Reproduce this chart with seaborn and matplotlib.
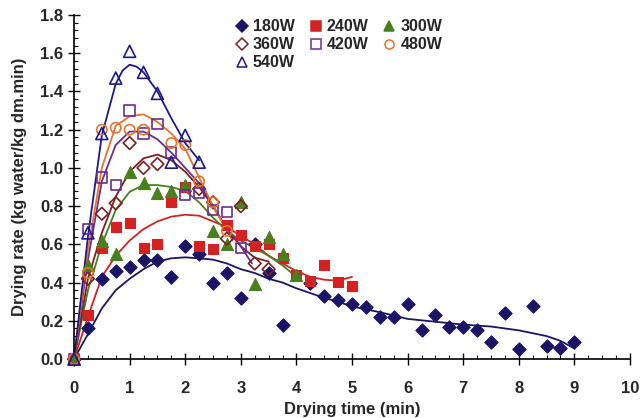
import matplotlib
matplotlib.use("Agg")
import matplotlib.pyplot as plt
import seaborn as sns
import pandas as pd
from matplotlib.ticker import MultipleLocator
from matplotlib.lines import Line2D

# ---- measured drying rates (kg water / kg dm.min) ----
t_180 = [0, 0.25, 0.5, 0.75, 1.0, 1.25, 1.5, 1.75, 2.0, 2.25, 2.5, 2.75, 3.0, 3.25, 3.5, 3.75,
         4.25, 4.5, 4.75, 5.0, 5.25, 5.5, 5.75, 6.0, 6.25, 6.5, 6.75, 7.0, 7.25, 7.5, 7.75,
         8.0, 8.25, 8.5, 8.75, 9.0]
r_180 = [0, 0.16, 0.42, 0.46, 0.48, 0.52, 0.52, 0.43, 0.59, 0.55, 0.40, 0.45, 0.32, 0.60, 0.45, 0.18,
         0.40, 0.33, 0.31, 0.29, 0.27, 0.22, 0.22, 0.29, 0.15, 0.23, 0.17, 0.165, 0.15, 0.09, 0.24,
         0.05, 0.28, 0.07, 0.06, 0.09]

t_240 = [0, 0.25, 0.5, 0.75, 1.0, 1.25, 1.5, 1.75, 2.0, 2.25, 2.5, 2.75, 3.0, 3.25, 3.5, 3.75,
         4.0, 4.25, 4.5, 4.75, 5.0]
r_240 = [0, 0.23, 0.58, 0.69, 0.71, 0.58, 0.60, 0.82, 0.90, 0.59, 0.575, 0.70, 0.65, 0.59, 0.60, 0.53,
         0.44, 0.41, 0.49, 0.405, 0.38]

t_300 = [0, 0.25, 0.5, 0.75, 1.0, 1.25, 1.5, 1.75, 2.0, 2.5, 2.75, 3.0, 3.25, 3.5, 3.75, 4.0]
r_300 = [0, 0.49, 0.62, 0.55, 0.98, 0.92, 0.87, 0.88, 0.91, 0.67, 0.60, 0.82, 0.39, 0.64, 0.55, 0.44]

t_360 = [0, 0.25, 0.5, 0.75, 1.0, 1.25, 1.5, 2.25, 2.5, 2.75, 3.0, 3.25, 3.5]
r_360 = [0, 0.42, 0.76, 0.815, 1.13, 1.00, 1.02, 0.89, 0.82, 0.63, 0.80, 0.50, 0.47]

t_420 = [0, 0.25, 0.5, 0.75, 1.0, 1.25, 1.5, 1.75, 2.0, 2.25, 2.5, 2.75, 3.0]
r_420 = [0, 0.68, 0.95, 0.91, 1.30, 1.18, 1.23, 1.08, 0.86, 0.87, 0.78, 0.77, 0.58]

t_480 = [0, 0.25, 0.5, 0.75, 1.0, 1.25, 1.75, 2.0, 2.25, 2.5, 2.75]
r_480 = [0, 0.45, 1.20, 1.21, 1.20, 1.20, 1.13, 1.12, 0.93, 0.82, 0.67]

t_540 = [0, 0.25, 0.5, 0.75, 1.0, 1.25, 1.5, 1.75, 2.0, 2.25]
r_540 = [0, 0.66, 1.18, 1.47, 1.61, 1.50, 1.39, 1.03, 1.17, 1.03]

# ---- fitted model curves ----
ft_180 = [0, 0.25, 0.5, 0.75, 1.0, 1.25, 1.5, 1.75, 2.0, 2.25, 2.5, 2.75, 3.0, 3.25, 3.5, 3.75,
          4.0, 4.25, 4.5, 4.75, 5.0, 5.5, 6.0, 6.5, 7.0, 7.5, 8.0, 8.5, 8.75, 9.0]
fr_180 = [0, 0.13, 0.265, 0.36, 0.42, 0.47, 0.51, 0.527, 0.532, 0.527, 0.52, 0.50, 0.47, 0.45, 0.42, 0.40,
          0.37, 0.345, 0.32, 0.30, 0.275, 0.245, 0.21, 0.195, 0.18, 0.17, 0.15, 0.12, 0.095, 0.055]

ft_240 = [0, 0.25, 0.5, 0.75, 1.0, 1.25, 1.5, 1.75, 2.0, 2.25, 2.5, 2.75, 3.0, 3.25, 3.5, 3.75,
          4.0, 4.25, 4.5, 4.75, 5.0]
fr_240 = [0, 0.22, 0.43, 0.54, 0.62, 0.68, 0.72, 0.745, 0.755, 0.75, 0.72, 0.69, 0.645, 0.60, 0.54, 0.50,
          0.46, 0.43, 0.415, 0.41, 0.43]

ft_300 = [0, 0.25, 0.5, 0.75, 1.0, 1.25, 1.5, 1.75, 2.0, 2.25, 2.5, 2.75, 3.0, 3.25, 3.5, 3.75, 4.0]
fr_300 = [0, 0.36, 0.60, 0.78, 0.875, 0.91, 0.91, 0.90, 0.88, 0.82, 0.74, 0.67, 0.62, 0.58, 0.54, 0.49, 0.43]

ft_360 = [0, 0.25, 0.5, 0.75, 1.0, 1.25, 1.5, 1.75, 2.0, 2.25, 2.5, 2.75, 3.0, 3.25, 3.5]
fr_360 = [0, 0.42, 0.66, 0.85, 0.98, 1.05, 1.07, 1.04, 0.98, 0.90, 0.80, 0.68, 0.59, 0.53, 0.51]

ft_420 = [0, 0.25, 0.5, 0.75, 1.0, 1.25, 1.5, 1.75, 2.0, 2.25, 2.5, 2.75, 3.0, 3.2]
fr_420 = [0, 0.52, 0.93, 1.12, 1.19, 1.19, 1.15, 1.08, 1.00, 0.92, 0.80, 0.68, 0.59, 0.50]

ft_480 = [0, 0.25, 0.5, 0.75, 1.0, 1.25, 1.5, 1.75, 2.0, 2.25, 2.5, 2.75, 2.85]
fr_480 = [0, 0.57, 1.00, 1.22, 1.27, 1.28, 1.24, 1.18, 1.10, 0.95, 0.80, 0.67, 0.62]

ft_540 = [0, 0.25, 0.5, 0.75, 0.875, 1.0, 1.125, 1.25, 1.5, 1.75, 2.0, 2.25]
fr_540 = [0, 0.64, 1.17, 1.44, 1.51, 1.54, 1.53, 1.50, 1.40, 1.26, 1.13, 1.04]

labels = ["180W", "240W", "300W", "360W", "420W", "480W", "540W"]
x_ticks = [0, 1, 2, 3, 4, 5, 6, 7, 8, 9, 10]
y_ticks = [0.0, 0.2, 0.4, 0.6, 0.8, 1.0, 1.2, 1.4, 1.6, 1.8]

points = [(t_180, r_180), (t_240, r_240), (t_300, r_300), (t_360, r_360),
          (t_420, r_420), (t_480, r_480), (t_540, r_540)]
curves = [(ft_180, fr_180), (ft_240, fr_240), (ft_300, fr_300), (ft_360, fr_360),
          (ft_420, fr_420), (ft_480, fr_480), (ft_540, fr_540)]

# marker style per power level: (marker, colour, filled, size)
styles = [
    ("D", "#1c1566", True, 46),
    ("s", "#d42222", True, 55),
    ("^", "#4a7f1e", True, 75),
    ("D", "#7a2020", False, 42),
    ("s", "#6b2c91", False, 55),
    ("o", "#e8742a", False, 55),
    ("^", "#1c1a8a", False, 75),
]

sns.set_theme(style="white")
plt.rcParams["font.family"] = ["Liberation Sans", "DejaVu Sans"]
plt.rcParams["font.weight"] = "bold"

fig = plt.figure(figsize=(6.42, 4.18), dpi=100)
ax = fig.add_axes([0.1153, 0.1411, 0.8660, 0.8230])

for (ft, fr), (mk, col, filled, sz) in zip(curves, styles):
    sns.lineplot(x=ft, y=fr, color=col, lw=1.3, ax=ax, legend=False, sort=False)

for (t, r), (mk, col, filled, sz) in zip(points, styles):
    df = pd.DataFrame({"time": t, "rate": r})
    if filled:
        sns.scatterplot(data=df, x="time", y="rate", marker=mk, s=sz, color=col,
                        edgecolor=col, linewidth=0.8, ax=ax, legend=False,
                        clip_on=False, zorder=3)
    else:
        sns.scatterplot(data=df, x="time", y="rate", marker=mk, s=sz,
                        facecolor="none", edgecolor=col, linewidth=1.2, ax=ax,
                        legend=False, clip_on=False, zorder=3)

ax.set_xlim(0, 10)
ax.set_ylim(0, 1.8)
ax.set_xticks(x_ticks)
ax.set_yticks(y_ticks)
ax.set_xticklabels([str(v) for v in x_ticks])
ax.set_yticklabels([f"{v:.1f}" for v in y_ticks])
ax.xaxis.set_minor_locator(MultipleLocator(0.25))
ax.yaxis.set_minor_locator(MultipleLocator(0.04))
ax.tick_params(axis="both", which="major", direction="inout", length=8, width=1,
               color="black", labelsize=12, bottom=True, left=True)
ax.tick_params(axis="x", which="major", pad=12)
ax.tick_params(axis="y", which="major", pad=4)
ax.tick_params(axis="both", which="minor", direction="in", length=3, width=0.8,
               color="black", bottom=True, left=True)
for lab in ax.get_xticklabels() + ax.get_yticklabels():
    lab.set_fontweight("bold")

for side in ["top", "right"]:
    ax.spines[side].set_visible(False)
for side in ["left", "bottom"]:
    ax.spines[side].set_color("black")
    ax.spines[side].set_linewidth(1.2)

ax.set_xlabel("Drying time (min)", fontsize=12, fontweight="bold", labelpad=4)
ax.set_ylabel("Drying rate (kg water/kg dm.min)", fontsize=12, fontweight="bold", labelpad=9)

handles = {}
for lab, (mk, col, filled, sz) in zip(labels, styles):
    handles[lab] = Line2D([], [], linestyle="none", marker=mk,
                          markersize=6.5 if mk != "^" else 7.5,
                          markerfacecolor=col if filled else "none", markeredgecolor=col,
                          markeredgewidth=1.1, label=lab)
# legend columns fill top-to-bottom, so order entries to read across rows
legend_order = ["180W", "360W", "540W", "240W", "420W", "300W", "480W"]
leg = ax.legend(handles=[handles[k] for k in legend_order], ncol=3, loc="upper left",
                bbox_to_anchor=(0.27, 1.015), frameon=False, fontsize=11.5,
                handletextpad=0.2, columnspacing=0.8, labelspacing=0.18,
                handlelength=1.0, borderaxespad=0.2)
for txt in leg.get_texts():
    txt.set_fontweight("bold")

fig.savefig("out.png", dpi=100)
